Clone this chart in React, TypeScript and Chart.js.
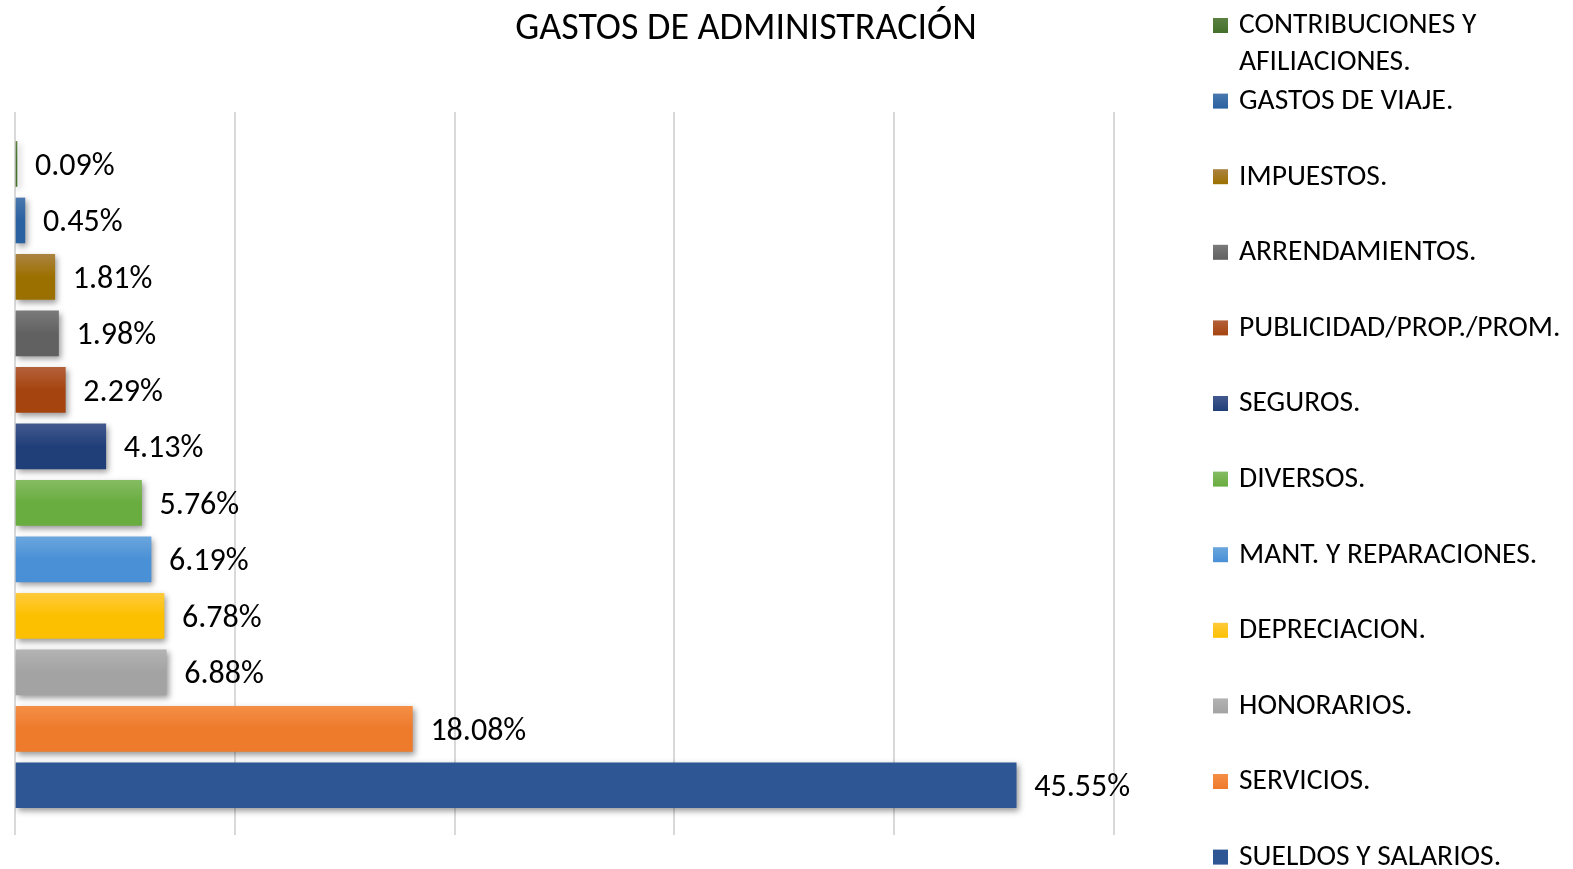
import React, { useEffect, useRef } from "react";
import { Chart, registerables } from "chart.js";

Chart.register(...registerables);

const TITLE = "GASTOS DE ADMINISTRACIÓN";

const categories = [
  "CONTRIBUCIONES Y\nAFILIACIONES.",
  "GASTOS DE VIAJE.",
  "IMPUESTOS.",
  "ARRENDAMIENTOS.",
  "PUBLICIDAD/PROP./PROM.",
  "SEGUROS.",
  "DIVERSOS.",
  "MANT. Y REPARACIONES.",
  "DEPRECIACION.",
  "HONORARIOS.",
  "SERVICIOS.",
  "SUELDOS Y SALARIOS.",
];

const values = [0.09, 0.45, 1.81, 1.98, 2.29, 4.13, 5.76, 6.19, 6.78, 6.88, 18.08, 45.55];

const baseColors = [
  "#43702a", "#2a61a0", "#9c7000", "#616161", "#a5440f", "#203f79",
  "#69ac3f", "#4a90d6", "#fcc000", "#a3a3a3", "#ee7a2c", "#2e5594",
];
const topColors = [
  "#5a8042", "#4a78ae", "#ab8340", "#7a7a7a", "#b4603a", "#43598e",
  "#85bc62", "#6aa6dd", "#ffca3c", "#b3b3b3", "#f48f45", "#2e5594",
];

const xTicks = [0, 10, 20, 30, 40, 50];

const FONT = "Carlito, Lato, 'Open Sans', sans-serif";

export default function App() {
  const ref = useRef<HTMLCanvasElement | null>(null);

  useEffect(() => {
    document.body.style.margin = "0";
    document.body.style.overflow = "hidden";
    const canvas = ref.current;
    if (!canvas) return;

    const gradientPlugin = {
      id: "gradShadow",
      beforeDatasetsDraw(chart: any) {
        const c = chart.ctx;
        const meta = chart.getDatasetMeta(0);
        meta.data.forEach((el: any, i: number) => {
          const h = el.height;
          const top = el.y - h / 2;
          const g = c.createLinearGradient(0, top, 0, top + h);
          g.addColorStop(0, topColors[i]);
          g.addColorStop(0.5, baseColors[i]);
          g.addColorStop(1, baseColors[i]);
          el.options.backgroundColor = g;
        });
        c.save();
        c.shadowColor = "rgba(0,0,0,0.4)";
        c.shadowBlur = 6;
        c.shadowOffsetX = 2;
        c.shadowOffsetY = 3;
      },
      afterDatasetsDraw(chart: any) {
        const c = chart.ctx;
        c.restore();
        const meta = chart.getDatasetMeta(0);
        c.save();
        c.fillStyle = "#000";
        c.font = `32px ${FONT}`;
        c.textBaseline = "middle";
        c.textAlign = "left";
        meta.data.forEach((el: any, i: number) => {
          c.fillText(values[i].toFixed(2) + "%", el.x + 18, el.y + 3);
        });
        c.restore();
      },
      afterDraw(chart: any) {
        const c = chart.ctx;
        c.save();
        // title
        c.fillStyle = "#000";
        c.font = `38px ${FONT}`;
        c.textAlign = "center";
        c.textBaseline = "middle";
        c.fillText(TITLE, 746, 29);
        // legend
        c.font = `29.5px ${FONT}`;
        c.textAlign = "left";
        categories.forEach((cat, i) => {
          const y = 25 + 75.6 * i;
          const g = c.createLinearGradient(0, y - 7, 0, y + 8);
          g.addColorStop(0, topColors[i]);
          g.addColorStop(1, baseColors[i]);
          c.fillStyle = g;
          c.fillRect(1213, y - 7, 15, 15);
          c.fillStyle = "#000";
          cat.split("\n").forEach((line, k) => {
            c.fillText(line, 1239, y + 1 + k * 37);
          });
        });
        c.restore();
      },
    };

    const chart = new Chart(canvas, {
      type: "bar",
      data: {
        datasets: [
          {
            data: values.map((v, i) => ({ x: v, y: i })),
            backgroundColor: baseColors,
            barThickness: 45,
          },
        ],
      },
      options: {
        indexAxis: "y",
        animation: false,
        responsive: false,
        maintainAspectRatio: false,
        layout: { padding: { left: 15, top: 112, right: 459, bottom: 34 } },
        plugins: {
          legend: { display: false },
          title: { display: false },
          tooltip: { enabled: false },
        },
        scales: {
          x: {
            type: "linear",
            min: xTicks[0],
            max: xTicks[xTicks.length - 1],
            afterBuildTicks: (s: any) => {
              s.ticks = xTicks.map((v) => ({ value: v }));
            },
            ticks: { display: false },
            border: { display: false },
            grid: { color: "#d9d9d9", lineWidth: 2, drawTicks: false },
          },
          y: {
            type: "linear",
            reverse: true,
            offset: false,
            min: -0.92,
            max: 11.88,
            display: false,
            grid: { offset: false },
          },
        },
      },
      plugins: [gradientPlugin],
    } as any);

    return () => chart.destroy();
  }, []);

  return (
    <div style={{ width: 1573, height: 869, position: "relative", background: "#fff" }}>
      <canvas ref={ref} width={1573} height={869} style={{ display: "block" }} />
    </div>
  );
}
